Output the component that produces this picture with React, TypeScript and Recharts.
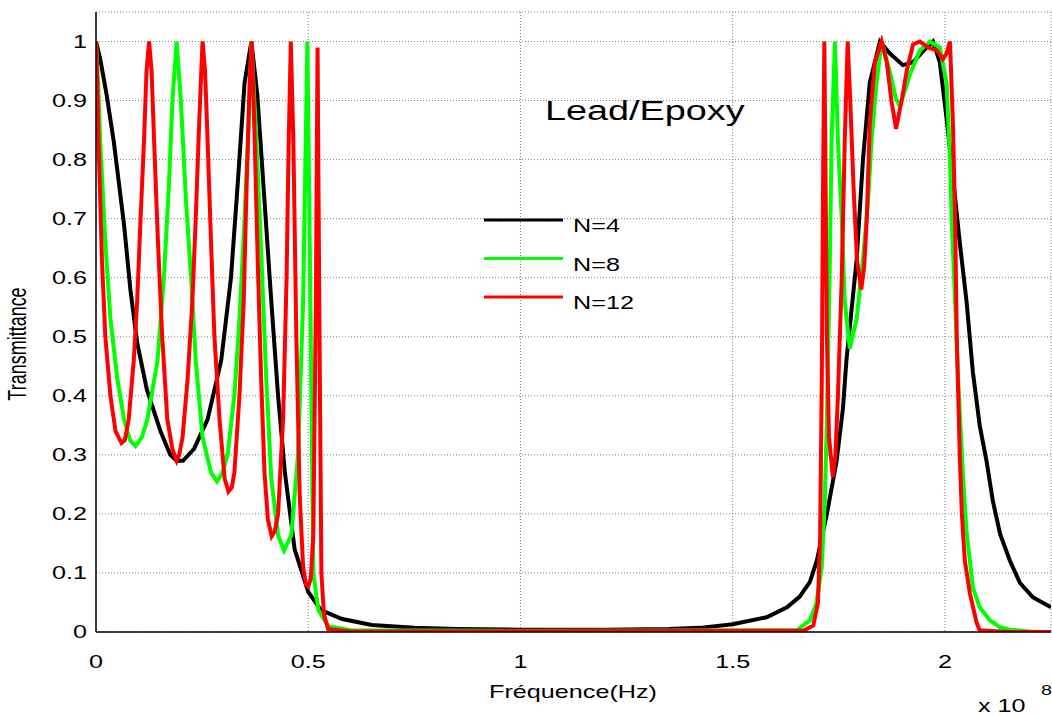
import { LineChart, Line, XAxis, YAxis, CartesianGrid, Legend } from 'recharts';

// frequency in units of 1e8 Hz, transmittance
const n4: [number, number][] = [
  [0, 1.0], [0.01, 0.97], [0.025, 0.91], [0.042, 0.83], [0.066, 0.69], [0.081, 0.58],
  [0.097, 0.49], [0.12, 0.41], [0.152, 0.34], [0.175, 0.3], [0.19, 0.29], [0.205, 0.29],
  [0.231, 0.31], [0.263, 0.36], [0.295, 0.46], [0.318, 0.6], [0.334, 0.76], [0.35, 0.93],
  [0.366, 1.0], [0.38, 0.91], [0.397, 0.73], [0.413, 0.56], [0.429, 0.4], [0.445, 0.27],
  [0.468, 0.14], [0.5, 0.068], [0.53, 0.037], [0.58, 0.022], [0.65, 0.012], [0.75, 0.007],
  [0.85, 0.005], [1.0, 0.004], [1.2, 0.004], [1.35, 0.005], [1.423, 0.007], [1.5, 0.013],
  [1.58, 0.025], [1.628, 0.042], [1.658, 0.06], [1.682, 0.085], [1.698, 0.12], [1.722, 0.2],
  [1.745, 0.29], [1.76, 0.38], [1.768, 0.46], [1.792, 0.63], [1.807, 0.8], [1.823, 0.93],
  [1.847, 1.0], [1.87, 0.98], [1.901, 0.96], [1.925, 0.965], [1.957, 0.99], [1.972, 1.0],
  [1.988, 0.965], [2.004, 0.87], [2.019, 0.77], [2.035, 0.66], [2.051, 0.56], [2.066, 0.44],
  [2.082, 0.35], [2.098, 0.29], [2.113, 0.222], [2.13, 0.166], [2.153, 0.121], [2.177, 0.083],
  [2.207, 0.059], [2.25, 0.042],
];

const n8: [number, number][] = [
  [0, 1.0], [0.005, 0.93], [0.01, 0.83], [0.022, 0.66], [0.034, 0.53], [0.05, 0.43],
  [0.066, 0.36], [0.08, 0.325], [0.093, 0.315], [0.108, 0.33], [0.121, 0.36], [0.145, 0.46],
  [0.16, 0.6], [0.172, 0.76], [0.18, 0.9], [0.19, 1.0], [0.2, 0.9], [0.212, 0.73],
  [0.224, 0.6], [0.235, 0.46], [0.251, 0.33], [0.271, 0.27], [0.285, 0.255], [0.298, 0.27],
  [0.31, 0.3], [0.326, 0.4], [0.338, 0.53], [0.35, 0.7], [0.358, 0.83], [0.366, 1.0],
  [0.378, 0.83], [0.39, 0.63], [0.401, 0.43], [0.413, 0.26], [0.429, 0.164], [0.443, 0.138],
  [0.46, 0.164], [0.476, 0.3], [0.488, 0.56], [0.498, 1.0], [0.504, 0.63], [0.512, 0.1],
  [0.524, 0.037], [0.547, 0.01], [0.6, 0.003], [1.0, 0.002], [1.651, 0.003], [1.682, 0.02],
  [1.697, 0.048], [1.71, 0.11], [1.717, 0.22], [1.722, 0.36], [1.729, 0.63], [1.733, 0.83],
  [1.741, 1.0], [1.748, 0.83], [1.757, 0.7], [1.764, 0.56], [1.776, 0.48], [1.792, 0.53],
  [1.807, 0.63], [1.819, 0.73], [1.827, 0.83], [1.839, 0.93], [1.851, 1.0], [1.87, 0.95],
  [1.884, 0.905], [1.894, 0.89], [1.905, 0.915], [1.918, 0.945], [1.941, 0.985], [1.965, 1.0],
  [1.988, 0.99], [2.004, 0.93], [2.012, 0.8], [2.016, 0.7], [2.024, 0.56], [2.031, 0.43],
  [2.043, 0.26], [2.051, 0.17], [2.059, 0.12], [2.066, 0.075], [2.082, 0.042], [2.106, 0.02],
  [2.13, 0.008], [2.153, 0.004], [2.2, 0.001], [2.25, 0.0],
];

const n12: [number, number][] = [
  [0, 1.0], [0.003, 0.93], [0.006, 0.83], [0.014, 0.63], [0.022, 0.5], [0.034, 0.4],
  [0.046, 0.34], [0.06, 0.32], [0.068, 0.325], [0.077, 0.36], [0.089, 0.46], [0.097, 0.56],
  [0.105, 0.7], [0.113, 0.83], [0.119, 0.95], [0.125, 1.0], [0.131, 0.95], [0.137, 0.83],
  [0.146, 0.66], [0.156, 0.5], [0.168, 0.36], [0.18, 0.31], [0.19, 0.29], [0.196, 0.3],
  [0.204, 0.33], [0.216, 0.43], [0.227, 0.56], [0.235, 0.7], [0.243, 0.86], [0.251, 1.0],
  [0.257, 0.95], [0.263, 0.83], [0.271, 0.66], [0.279, 0.5], [0.291, 0.36], [0.303, 0.26],
  [0.312, 0.238], [0.32, 0.245], [0.326, 0.27], [0.338, 0.4], [0.348, 0.56], [0.355, 0.76],
  [0.362, 0.93], [0.367, 1.0], [0.374, 0.83], [0.381, 0.63], [0.389, 0.43], [0.397, 0.27],
  [0.405, 0.19], [0.414, 0.162], [0.421, 0.17], [0.429, 0.2], [0.441, 0.364], [0.449, 0.6],
  [0.454, 0.83], [0.459, 1.0], [0.465, 0.83], [0.472, 0.5], [0.48, 0.23], [0.488, 0.11],
  [0.495, 0.08], [0.5, 0.077], [0.506, 0.09], [0.512, 0.164], [0.518, 0.56], [0.522, 0.99],
  [0.526, 0.56], [0.531, 0.1], [0.537, 0.03], [0.547, 0.005], [0.6, 0.001], [1.666, 0.002],
  [1.69, 0.011], [1.701, 0.05], [1.706, 0.16], [1.71, 0.43], [1.713, 0.76], [1.716, 1.0],
  [1.719, 0.76], [1.722, 0.5], [1.727, 0.33], [1.736, 0.262], [1.742, 0.3], [1.748, 0.4],
  [1.757, 0.6], [1.764, 0.83], [1.771, 1.0], [1.777, 0.9], [1.785, 0.75], [1.793, 0.63],
  [1.803, 0.58], [1.81, 0.62], [1.816, 0.7], [1.823, 0.86], [1.835, 0.965], [1.851, 1.0],
  [1.863, 0.965], [1.874, 0.9], [1.885, 0.852], [1.898, 0.9], [1.91, 0.95], [1.925, 0.995],
  [1.941, 1.0], [1.96, 0.99], [1.981, 0.985], [1.995, 0.97], [2.004, 0.98], [2.012, 1.0],
  [2.019, 0.86], [2.024, 0.7], [2.028, 0.5], [2.035, 0.3], [2.04, 0.2], [2.047, 0.12],
  [2.059, 0.065], [2.075, 0.015], [2.082, 0.003], [2.15, 0.0], [2.25, 0.0],
];

const xTicks = [0, 0.5, 1, 1.5, 2];
const yTicks = [0, 0.1, 0.2, 0.3, 0.4, 0.5, 0.6, 0.7, 0.8, 0.9, 1];
const legendOrder = ['N=4', 'N=8', 'N=12'];

const toRows = (pts: [number, number][]) => pts.map(([f, t]) => ({ f, t }));

const FONT = '"Liberation Sans", Arial, sans-serif';
const SX = 1.4; // the original figure is stretched horizontally

// text with the same horizontal stretch as the source picture
const StretchText = ({ x, y, size = 18, anchor = 'start', sx = SX, rotate = 0, children }: any) => (
  <text
    transform={`translate(${x},${y}) scale(${sx},1)${rotate ? ` rotate(${rotate})` : ''}`}
    textAnchor={anchor}
    fontSize={size}
    fontFamily={FONT}
    fill="#000"
  >
    {children}
  </text>
);

const YTick = ({ x, y, payload }: any) => (
  <StretchText x={x} y={y + 6} anchor="end">{String(payload.value)}</StretchText>
);

const XTick = ({ x, y, payload }: any) => (
  <StretchText x={x} y={y + 36} anchor="middle">{String(payload.value)}</StretchText>
);

// legend drawn without a box, lines then labels
const LegendBox = ({ payload }: any) => {
  const items = [...(payload || [])].sort(
    (a: any, b: any) => legendOrder.indexOf(a.value) - legendOrder.indexOf(b.value)
  );
  return (
    <svg width={200} height={110}>
      {items.map((item: any, i: number) => {
        const cy = 15 + i * 38.5;
        return (
          <g key={item.value}>
            <line x1={0} x2={79} y1={cy} y2={cy} stroke={item.color} strokeWidth={3} />
            <StretchText x={89} y={cy + 12}>{item.value}</StretchText>
          </g>
        );
      })}
    </svg>
  );
};

export default function App() {
  return (
    <div style={{ position: 'absolute', left: 0, top: 0, width: 1052, height: 716, background: '#fff' }}>
      <LineChart width={1052} height={716} margin={{ top: 12, right: 1, left: 0, bottom: 0 }}>
        <CartesianGrid stroke="#808080" strokeDasharray="1 2" />
        <XAxis
          dataKey="f"
          type="number"
          domain={[0, 2.25]}
          ticks={xTicks}
          allowDataOverflow
          height={84}
          tickSize={0}
          tickMargin={0}
          tick={<XTick />}
          axisLine={{ stroke: '#000', strokeWidth: 1.5 }}
          tickLine={false}
          label={{
            content: () => (
              <StretchText x={573} y={698} anchor="middle">Fréquence(Hz)</StretchText>
            ),
          }}
        />
        <XAxis
          xAxisId="top"
          orientation="top"
          type="number"
          domain={[0, 2.25]}
          ticks={xTicks}
          height={0}
          mirror
          tickSize={5}
          tick={false}
          axisLine={{ stroke: '#000', strokeWidth: 1.5 }}
          tickLine={{ stroke: '#000' }}
        />
        <YAxis
          type="number"
          domain={[0, 1.05]}
          ticks={yTicks}
          allowDataOverflow
          width={96}
          tickSize={0}
          tickMargin={9}
          tick={<YTick />}
          axisLine={{ stroke: '#000', strokeWidth: 1.5 }}
          tickLine={false}
          label={{
            content: () => (
              <StretchText x={26} y={344} anchor="middle" rotate={-90}>Transmittance</StretchText>
            ),
          }}
        />
        <YAxis
          yAxisId="right"
          orientation="right"
          type="number"
          domain={[0, 1.05]}
          ticks={yTicks}
          width={0}
          mirror
          tickSize={5}
          tick={false}
          axisLine={{ stroke: '#000', strokeWidth: 1.5 }}
          tickLine={{ stroke: '#000' }}
        />
        <Legend
          layout="vertical"
          align="center"
          verticalAlign="middle"
          content={<LegendBox />}
          wrapperStyle={{ position: 'absolute', left: 484, top: 205, width: 200, height: 110 }}
        />
        <Line
          data={toRows(n4)}
          dataKey="t"
          name="N=4"
          type="linear"
          stroke="#000000"
          strokeWidth={4}
          dot={false}
          isAnimationActive={false}
        />
        <Line
          data={toRows(n8)}
          dataKey="t"
          name="N=8"
          type="linear"
          stroke="#00ff00"
          strokeWidth={4}
          dot={false}
          isAnimationActive={false}
        />
        <Line
          data={toRows(n12)}
          dataKey="t"
          name="N=12"
          type="linear"
          stroke="#ff0000"
          strokeWidth={4}
          dot={false}
          isAnimationActive={false}
        />
      </LineChart>
      {/* title and axis multiplier */}
      <svg
        width={1052}
        height={716}
        style={{ position: 'absolute', left: 0, top: 0, pointerEvents: 'none' }}
      >
        <StretchText x={545} y={120} size={28} sx={1.35}>Lead/Epoxy</StretchText>
        <StretchText x={978} y={712}>x 10</StretchText>
        <StretchText x={1041} y={695} size={14}>8</StretchText>
      </svg>
    </div>
  );
}
